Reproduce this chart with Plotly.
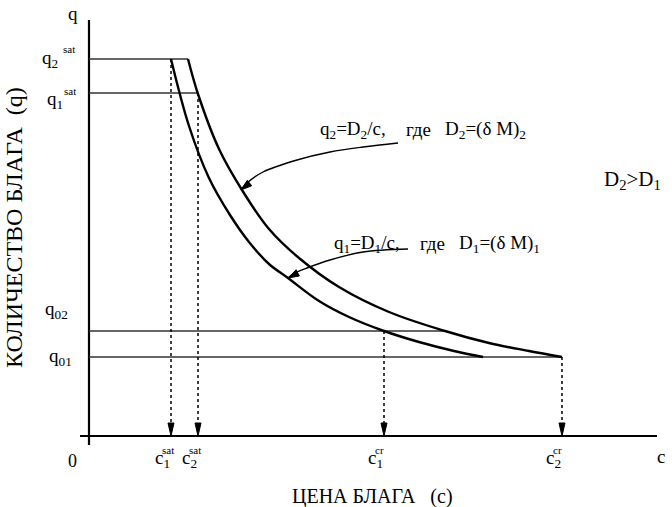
import plotly.graph_objects as go

# ---- data (units: arbitrary) ----
curve1_c = [82, 100, 120, 141, 160, 180, 199, 230, 260, 295, 330, 365, 394]
curve1_q = [377, 310, 258, 221, 194, 172, 158, 135, 119, 105, 94, 85, 79]
curve2_c = [99, 109, 130, 153, 180, 210, 250, 300, 356, 400, 440, 473]
curve2_q = [377, 342, 287, 246, 207, 178, 149, 124, 105, 93, 85, 79]

q_levels = {"q2sat": 377, "q1sat": 343, "q02": 105, "q01": 79}
q_line_end = {"q2sat": 99, "q1sat": 109, "q02": 356, "q01": 473}
c_marks = {"c1sat": 82, "c2sat": 109, "c1cr": 295, "c2cr": 473}
c_mark_top = {"c1sat": 377, "c2sat": 343, "c1cr": 105, "c2cr": 79}

arrow2_c = [309, 274, 241, 208, 174, 158, 152]
arrow2_q = [293, 289, 284, 276, 264, 253, 246]
arrow1_c = [319, 274, 241, 218, 204, 199]
arrow1_q = [187, 184, 176, 168, 162, 158]

X_AXIS = (-9, 568)
Y_AXIS = (-9, 416)

FONT = "Liberation Serif"
fig = go.Figure()


def line(xs, ys, width=2, color="black", dash="solid", shape="linear"):
    fig.add_trace(go.Scatter(x=xs, y=ys, mode="lines", hoverinfo="skip",
                             line=dict(color=color, width=width, dash=dash, shape=shape),
                             showlegend=False))


def head(tip_x, tip_y, dx, dy, length=12, half=3):
    n = (dx ** 2 + dy ** 2) ** 0.5
    ux, uy = dx / n, dy / n
    bx, by = tip_x - ux * length, tip_y - uy * length
    px, py = -uy, ux
    xs = [tip_x, bx + px * half, bx - px * half, tip_x]
    ys = [tip_y, by + py * half, by - py * half, tip_y]
    fig.add_trace(go.Scatter(x=xs, y=ys, mode="lines", fill="toself", fillcolor="black",
                             line=dict(color="black", width=1), hoverinfo="skip",
                             showlegend=False))


# axes
line(list(X_AXIS), [0, 0], width=2.2)
line([0, 0], list(Y_AXIS), width=2.2)

# horizontal level lines
for k, qv in q_levels.items():
    line([0, q_line_end[k]], [qv, qv], width=1.5, color="#333333")

# dotted verticals with arrowheads
for k, cv in c_marks.items():
    line([cv, cv], [c_mark_top[k], 10], width=1.5, dash="dot")
    head(cv, 0, 0, -1, length=13, half=3)

# demand curves
line(curve1_c, curve1_q, width=2.4, shape="spline")
line(curve2_c, curve2_q, width=2.4, shape="spline")

# label arrows
line(arrow2_c, arrow2_q, width=1.4, shape="spline")
head(arrow2_c[-1], arrow2_q[-1], arrow2_c[-1] - arrow2_c[-3], arrow2_q[-1] - arrow2_q[-3], length=11, half=3.5)
line(arrow1_c, arrow1_q, width=1.4, shape="spline")
head(arrow1_c[-1], arrow1_q[-1], arrow1_c[-1] - arrow1_c[-3], arrow1_q[-1] - arrow1_q[-3], length=11, half=3.5)


def text(x, y, s, size=19, xanchor="left", yanchor="middle", angle=0):
    fig.add_annotation(x=x, y=y, text=s, showarrow=False, xanchor=xanchor, yanchor=yanchor,
                       textangle=angle, font=dict(family=FONT, size=size, color="black"))


# axis names
text(-16, 423, "q", 19, xanchor="center")
text(572, -20, "c", 19, xanchor="center")
text(-17, -25, "0", 18, xanchor="center")
text(283, -60, "ЦЕНА БЛАГА\u00a0\u00a0\u00a0(c)", 20, xanchor="center")
text(-75, 208, "КОЛИЧЕСТВО БЛАГА\u00a0\u00a0(q)", 24, xanchor="center", angle=-90)

# q tick labels: (text, superscript, x, y, sup_x, sup_y)
q_tick = [("q<sub>2</sub>", "sat", -49, 377, -28, 387),
          ("q<sub>1</sub>", "sat", -44, 336, -27, 345),
          ("q<sub>02</sub>", None, -46, 126, 0, 0),
          ("q<sub>01</sub>", None, -42, 79, 0, 0)]
for s, sup, x, y, sx, sy in q_tick:
    text(x, y, s, 19)
    if sup:
        text(sx, sy, sup, 11)

# c tick labels
c_tick = {"c1sat": ("c<sub>1</sub>", "sat"), "c2sat": ("c<sub>2</sub>", "sat"),
          "c1cr": ("c<sub>1</sub>", "cr"), "c2cr": ("c<sub>2</sub>", "cr")}
for k, (s, sup) in c_tick.items():
    cv = c_marks[k]
    text(cv - 18, -23, s, 19)
    text(cv - 11, -14, sup, 11)

# formulas
text(229, 306, "q<sub>2</sub>=D<sub>2</sub>/c,", 19)
text(315, 307, "где", 19)
text(354, 306, "D<sub>2</sub>=(δ M)<sub>2</sub>", 19)
text(243, 192, "q<sub>1</sub>=D<sub>1</sub>/c,", 19)
text(329, 193, "где", 19)
text(368, 192, "D<sub>1</sub>=(δ M)<sub>1</sub>", 19)
text(513, 256, "D<sub>2</sub>>D<sub>1</sub>", 21)

fig.update_layout(width=672, height=507, margin=dict(l=0, r=0, t=0, b=0),
                  paper_bgcolor="white", plot_bgcolor="white",
                  xaxis=dict(range=[-89, 583], visible=False, fixedrange=True),
                  yaxis=dict(range=[-71, 436], visible=False, fixedrange=True))
fig.write_html("out.html")
